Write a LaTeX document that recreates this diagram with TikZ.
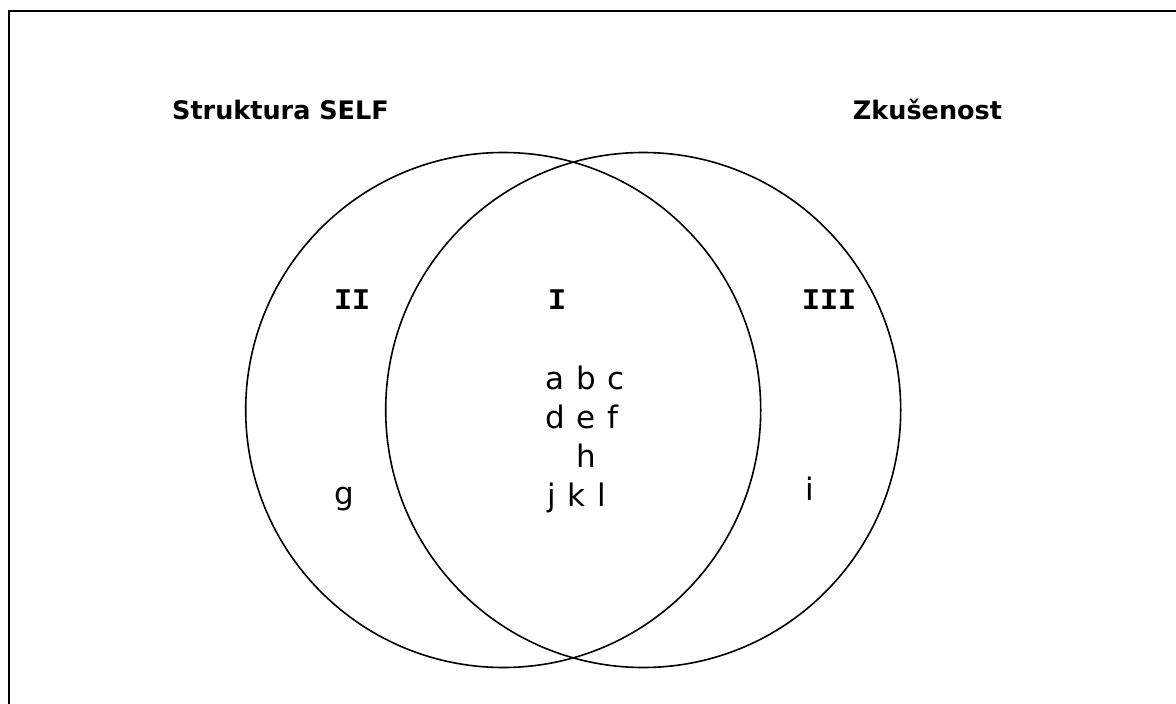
\documentclass[tikz,border=0pt]{standalone}
\usepackage{fontspec}
\setmainfont{DejaVu Sans}
\newfontfamily\romfont{Liberation Mono}
\newcommand\itemfnt{\fontsize{31}{36}\selectfont\spaceskip=12pt\relax}
\begin{document}
\begin{tikzpicture}[x=1pt,y=-1pt,
  ring/.style={circle,draw,line width=1.6pt,minimum size=515pt,inner sep=0pt},
  title/.style={font=\fontsize{25.5}{30}\selectfont\bfseries,inner sep=0pt,anchor=base},
  roman/.style={font=\fontsize{30}{34}\selectfont\romfont\bfseries,inner sep=0pt,anchor=base},
  item/.style={font=\itemfnt,inner sep=0pt,anchor=base west}]
\useasboundingbox (0,0) rectangle (1176,704);
\fill[white] (0,0) rectangle (1176,704);
\coordinate (fb) at (9,704);
\coordinate (fc) at (9,11);
\coordinate (fr) at (1176,11);
\draw[line width=2.6pt] (fb) -- (fc) -- (fr);
\node[ring] (L) at (503.2,410) {};
\node[ring] (R) at (643.2,410) {};
\node[title] (t1) at (280.5,119) {Struktura SELF};
\node[title] (t2) at (927.5,119) {Zkušenost};
\node[roman] (r2) at (352,309) {II};
\node[roman] (r1) at (557,309) {I};
\node[roman] (r3) at (829,309) {III};
\node[item] (abc) at (545,389) {a b c};
\node[item] (def) at (545,428) {d e f};
\node[item] (h) at (576,467) {h};
\node[item] (jkl) at (547,506) {j k l};
\node[item] (g) at (334,504) {g};
\node[item] (i) at (805,500) {i};
\end{tikzpicture}
\end{document}
